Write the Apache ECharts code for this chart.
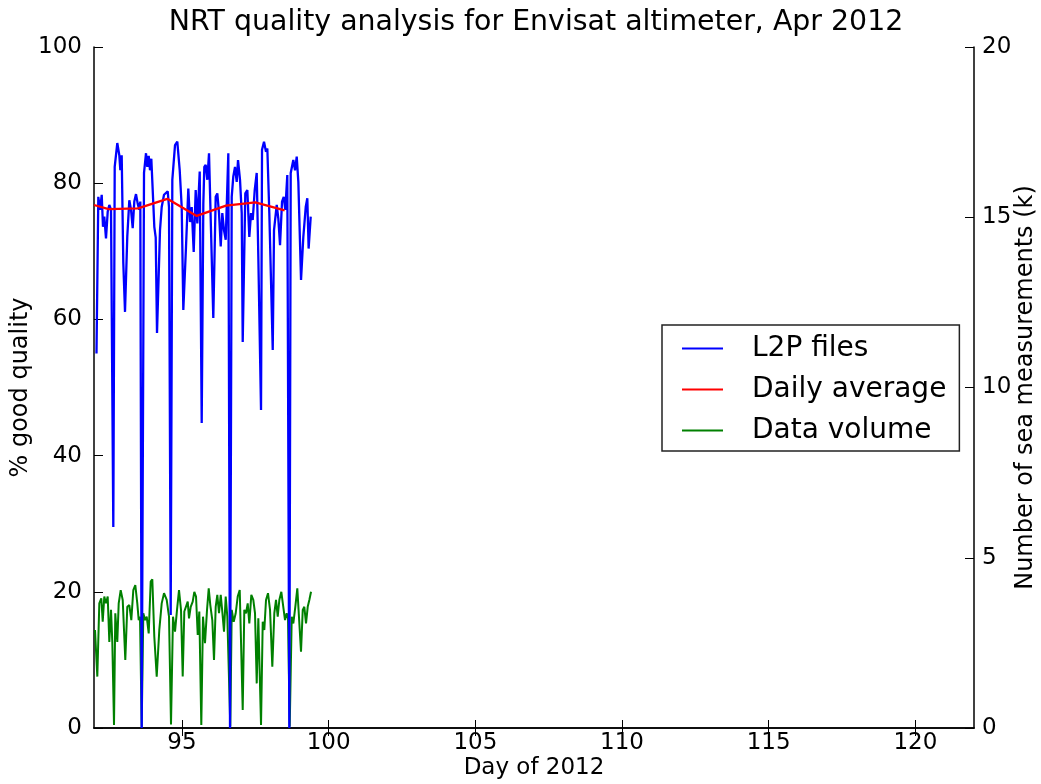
<!DOCTYPE html>
<html>
<head>
<meta charset="utf-8">
<script src="https://cdn.jsdelivr.net/npm/echarts@6/dist/echarts.min.js"></script>
<style>
html,body{margin:0;padding:0;background:#fff;}
#chart{width:1041px;height:784px;}
</style>
</head>
<body>
<div id="chart"></div>
<script>
// Day of year for each L2P file and its % good quality
const l2pDays = [92.085,92.147,92.205,92.263,92.307,92.351,92.409,92.467,92.522,92.580,92.658,92.706,92.794,92.863,92.897,92.944,92.999,93.057,93.135,93.204,93.262,93.319,93.374,93.432,93.490,93.544,93.579,93.626,93.705,93.773,93.817,93.865,93.909,93.954,94.022,94.056,94.104,94.148,94.250,94.308,94.387,94.513,94.557,94.615,94.670,94.762,94.840,94.922,94.990,95.045,95.137,95.215,95.273,95.331,95.399,95.467,95.522,95.604,95.672,95.727,95.761,95.808,95.863,95.921,95.989,96.067,96.149,96.204,96.262,96.320,96.374,96.432,96.490,96.579,96.637,96.695,96.749,96.807,96.865,96.910,96.978,97.036,97.070,97.158,97.227,97.295,97.353,97.411,97.479,97.547,97.602,97.694,97.728,97.796,97.864,97.909,97.977,98.093,98.137,98.229,98.284,98.342,98.410,98.468,98.522,98.590,98.659,98.706,98.795,98.853,98.911,98.966,99.058,99.136,99.218,99.272,99.317,99.388];
const l2pQuality = [55,78.0,76.1,78.3,73.6,75.1,71.9,75.8,76.8,76.1,29.5,82.4,85.9,84.1,81.9,84.1,68.3,61.1,72.2,77.5,76.1,73.4,77.3,78.4,77.0,76.1,77.3,0,81.5,84.4,82.4,84.0,81.9,83.6,77.0,73.6,72.0,58.0,73.1,76.5,78.3,78.8,76.5,16.6,80.5,85.6,86.1,81.9,76.5,61.4,70.7,79.2,74.3,76.5,69.9,79.0,74.1,81.7,44.8,77.0,82.4,82.7,80.5,84.4,73.1,60.2,78.0,78.5,75.6,70.7,75.6,73.1,71.7,84.4,0,78.0,81.0,82.4,80.2,83.4,80.5,75.6,56.7,78.5,79.0,72.1,75.6,74.6,79.0,81.5,69.2,46.7,84.9,86.1,84.6,85.1,75.6,55.5,73.1,76.8,74.8,70.9,77.3,78.0,76.1,81.2,0,81.5,83.4,81.9,83.9,80.2,65.8,72.1,76.5,77.8,70.4,75.1];

// Daily average
const avgDays = [92.0,92.5,93.5,94.5,95.5,96.5,97.5,98.5];
const avgQuality = [76.8,76.2,76.3,77.7,75.2,76.7,77.2,76.0];

// Data volume (thousands of sea measurements)
const volDays = [92.034,92.113,92.181,92.249,92.297,92.351,92.409,92.467,92.522,92.580,92.624,92.682,92.726,92.794,92.842,92.910,92.979,93.067,93.135,93.204,93.272,93.340,93.408,93.476,93.524,93.568,93.626,93.681,93.739,93.797,93.865,93.933,93.988,94.056,94.138,94.226,94.308,94.387,94.479,94.557,94.625,94.693,94.762,94.830,94.898,94.966,95.024,95.079,95.137,95.195,95.239,95.297,95.365,95.420,95.478,95.536,95.590,95.658,95.716,95.784,95.853,95.911,95.965,96.033,96.091,96.149,96.204,96.262,96.320,96.374,96.432,96.490,96.545,96.603,96.647,96.695,96.763,96.831,96.899,96.968,97.012,97.070,97.124,97.182,97.240,97.295,97.363,97.431,97.489,97.547,97.602,97.636,97.694,97.752,97.806,97.864,97.932,98.001,98.079,98.147,98.205,98.263,98.318,98.386,98.454,98.512,98.570,98.614,98.672,98.741,98.795,98.863,98.931,98.989,99.057,99.116,99.170,99.228,99.286,99.341,99.399];
const volK = [2.88,1.51,3.66,3.81,3.12,3.86,3.66,3.86,2.53,3.47,2.53,0.09,3.37,2.53,3.66,4.05,3.76,2.0,3.56,3.61,3.17,4.05,4.2,3.66,3.17,3.27,0.04,3.37,3.17,3.27,2.78,4.3,4.37,2.68,1.51,2.88,3.66,3.96,3.76,3.27,0.1,3.27,2.83,3.47,4.05,3.47,1.51,3.42,3.47,3.71,3.22,3.56,3.71,4.0,3.86,2.73,3.42,0.09,3.27,2.49,3.47,4.1,3.61,3.17,2.0,3.56,3.91,3.37,3.91,3.42,2.83,3.86,3.27,3.22,0.04,3.47,3.12,3.37,3.86,4.05,4.05,0.53,3.47,3.37,3.66,3.07,3.91,3.76,3.37,1.31,3.22,3.17,0.09,3.12,2.88,3.76,3.96,3.47,1.8,3.37,3.76,3.27,3.76,4.0,4.0,3.17,3.37,3.22,0.04,3.27,3.07,3.56,4.1,4.15,2.24,3.47,3.56,3.07,3.56,3.76,4.0];

const xTicks = [95,100,105,110,115,120];
const leftTicks = [0,20,40,60,80,100];
const rightTicks = [0,5,10,15,20];

const zip = (a, b) => a.map((v, i) => [v, b[i]]);
const FONT = 'DejaVu Sans';
const TICK_FS = 23, XNAME_FS = 23, YNAME_FS = 24;
const chart = echarts.init(document.getElementById('chart'), null, {renderer: 'canvas'});
const axLine = {show: true, lineStyle: {color: '#000', width: 1.5}};
const tickStyle = {color: '#000', width: 1};
chart.setOption({
  animation: false,
  backgroundColor: '#fff',
  title: {
    text: 'NRT quality analysis for Envisat altimeter, Apr 2012',
    left: 531, top: 4, textAlign: 'center',
    textStyle: {fontFamily: FONT, fontSize: 28.4, fontWeight: 'normal', color: '#000'}
  },
  grid: {left: 94, right: 67, top: 47, bottom: 56, containLabel: false, outerBoundsMode: 'none'},
  legend: {
    left: 662, top: 325, orient: 'vertical',
    icon: 'rect', itemWidth: 41, itemHeight: 2, itemGap: 8,
    padding: [7, 13, 4, 20],
    borderColor: '#222', borderWidth: 1.5, backgroundColor: '#fff',
    textStyle: {fontFamily: FONT, fontSize: 28, color: '#000', lineHeight: 33, padding: [0, 0, 0, 24]},
    data: ['L2P files', 'Daily average', 'Data volume']
  },
  xAxis: [{
    type: 'value', min: 92, max: 122, position: 'bottom',
    name: 'Day of 2012', nameLocation: 'middle', nameGap: 29, nameMoveOverlap: false,
    nameTextStyle: {fontFamily: FONT, fontSize: XNAME_FS, color: '#000'},
    axisLine: axLine,
    axisTick: {show: true, inside: true, length: 8, customValues: xTicks, lineStyle: tickStyle},
    axisLabel: {customValues: xTicks, fontFamily: FONT, fontSize: TICK_FS, color: '#000', margin: 4},
    splitLine: {show: false}
  }, {
    type: 'value', min: 92, max: 122, position: 'top',
    axisLine: axLine,
    axisTick: {show: true, inside: true, length: 8, customValues: xTicks, lineStyle: tickStyle},
    axisLabel: {show: false},
    splitLine: {show: false}
  }],
  yAxis: [{
    type: 'value', min: 0, max: 100, interval: 20, position: 'left',
    name: '% good quality', nameLocation: 'middle', nameGap: 61, nameMoveOverlap: false,
    nameTextStyle: {fontFamily: FONT, fontSize: YNAME_FS, color: '#000'},
    axisLine: axLine,
    axisTick: {show: true, inside: true, length: 9, customValues: leftTicks, lineStyle: tickStyle},
    axisLabel: {customValues: leftTicks, fontFamily: FONT, fontSize: TICK_FS, color: '#000', margin: 12},
    splitLine: {show: false}
  }, {
    type: 'value', min: 0, max: 20, interval: 5, position: 'right',
    name: 'Number of sea measurements (k)', nameLocation: 'middle', nameGap: 40, nameMoveOverlap: false,
    nameTextStyle: {fontFamily: FONT, fontSize: YNAME_FS, color: '#000'},
    axisLine: axLine,
    axisTick: {show: true, inside: true, length: 9, customValues: rightTicks, lineStyle: tickStyle},
    axisLabel: {customValues: rightTicks, fontFamily: FONT, fontSize: TICK_FS, color: '#000', margin: 8},
    splitLine: {show: false}
  }],
  series: [{
    name: 'L2P files', type: 'line', xAxisIndex: 0, yAxisIndex: 0,
    data: zip(l2pDays, l2pQuality), symbol: 'none', smooth: false,
    lineStyle: {color: '#0000ff', width: 2.3}, itemStyle: {color: '#0000ff'}, z: 3
  }, {
    name: 'Daily average', type: 'line', xAxisIndex: 0, yAxisIndex: 0,
    data: zip(avgDays, avgQuality), symbol: 'none',
    lineStyle: {color: '#ff0000', width: 2.3}, itemStyle: {color: '#ff0000'}, z: 4
  }, {
    name: 'Data volume', type: 'line', xAxisIndex: 0, yAxisIndex: 1,
    data: zip(volDays, volK), symbol: 'none',
    lineStyle: {color: '#008000', width: 2}, itemStyle: {color: '#008000'}, z: 2
  }]
});
</script>
</body>
</html>
